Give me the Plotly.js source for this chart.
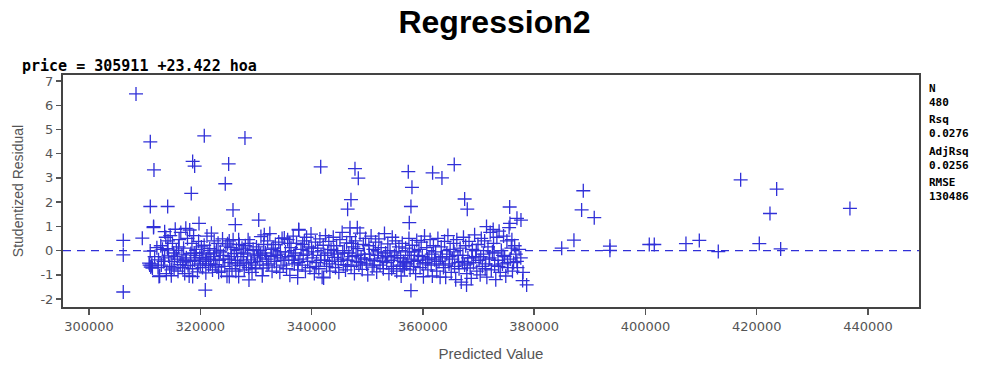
<!DOCTYPE html>
<html>
<head>
<meta charset="utf-8">
<script src="https://cdn.plot.ly/plotly-3.0.1.min.js"></script>
<style>html,body{margin:0;padding:0;background:#fff;}#chart{width:989px;height:366px;}</style>
</head>
<body>
<div id="chart"></div>
<script>
// Predicted value (x) and studentized residual (y)
const predValue = [
  // outliers / sparse points
  308450, 311020, 320720, 328030, 318630, 311680, 318990, 325100, 324490, 318380,
  311020, 314140, 325880, 326290, 330500, 341640, 306160, 306160, 306160, 309580,
  320900, 311610, 319770, 328750, 312580, 314790, 326900, 325210, 318630, 337500,
  331140, 342170, 337680, 347800, 348400, 347080, 346480, 346900, 348220, 357380,
  358040, 357860, 357560, 361750, 363430, 365640, 367510, 367980, 375600, 376910,
  377630, 375650, 357860, 378650, 377930, 367850, 371440, 372640, 384950, 387150,
  388830, 388530, 390800, 393620, 393620, 400690, 401590, 407280, 409680, 413090,
  417110, 420460, 422380, 423580, 424300, 436750,
  // dense cloud
  310800, 310900, 311100, 311300, 311400, 311200, 311600, 311000,
  312200, 312500, 312700, 312900, 313200, 313400, 313600, 313800, 313900, 314100,
  314300, 314500, 314600, 314800, 315000, 315200, 315300, 315500, 315700, 315900,
  316000, 316200, 316400, 316500, 316700, 316900, 317000, 317200, 317400, 317500,
  317700, 317800, 318000, 318100, 318300, 318500, 318600, 318800, 319000, 319200,
  319300, 319500, 319700, 319900, 320000, 320200, 320400, 320500, 320700, 320900,
  321000, 321200, 321400, 321500, 321700, 321900, 322000, 322200, 322400, 322500,
  322700, 322900, 323000, 323200, 323400, 323600, 323800, 324000, 324200, 324400,
  324600, 324800, 325000, 325200, 325300, 325500, 325700, 325900, 326100, 326300,
  326500, 326700, 326900, 327100, 327300, 327500, 327700, 327900, 328100, 328300,
  328500, 328700, 328900, 329100, 329300, 329500, 329700, 329900, 330100, 330300,
  330500, 330700, 330900, 331100, 331300, 331500, 331700, 331900, 332100, 332300,
  332500, 332700, 332900, 333100, 333300, 333500, 333700, 333900, 334100, 334300,
  334500, 334700, 334900, 335100, 335300, 335500, 335700, 335900, 336100, 336300,
  336500, 336700, 336900, 337100, 337300, 337500, 337700, 337900, 338100, 338300,
  338500, 338700, 338900, 339100, 339300, 339500, 339700, 339900, 340100, 340300,
  340500, 340700, 340900, 341100, 341300, 341500, 341700, 341900, 342100, 342300,
  342500, 342700, 342900, 343100, 343300, 343500, 343700, 343900, 344100, 344300,
  344500, 344700, 344900, 345100, 345300, 345500, 345700, 345900, 346100, 346300,
  346500, 346700, 346900, 347100, 347300, 347500, 347700, 347900, 348100, 348300,
  348500, 348700, 348900, 349100, 349300, 349500, 349700, 349900, 350100, 350300,
  350500, 350700, 350900, 351100, 351300, 351500, 351700, 351900, 352100, 352300,
  352500, 352700, 352900, 353100, 353300, 353500, 353700, 353900, 354100, 354300,
  354500, 354700, 354900, 355100, 355300, 355500, 355700, 355900, 356100, 356300,
  356500, 356700, 356900, 357100, 357300, 357500, 357700, 357900, 358100, 358300,
  358500, 358700, 358900, 359100, 359300, 359500, 359700, 359900, 360100, 360300,
  360500, 360700, 360900, 361100, 361300, 361500, 361700, 361900, 362100, 362300,
  362500, 362700, 362900, 363100, 363300, 363500, 363700, 363900, 364100, 364300,
  364500, 364700, 364900, 365100, 365300, 365500, 365700, 365900, 366100, 366300,
  366500, 366700, 366900, 367100, 367300, 367500, 367700, 367900, 368100, 368300,
  368500, 368700, 368900, 369100, 369300, 369500, 369700, 369900, 370100, 370300,
  370500, 370700, 370900, 371100, 371300, 371500, 371700, 371900, 372100, 372300,
  372500, 372700, 372900, 373100, 373300, 373500, 373700, 373900, 374100, 374300,
  374500, 374700, 374900, 375100, 375300, 375500, 375700, 375900, 376100, 376300,
  376500, 376700, 377000, 377300, 377600, 378000,
  311800, 312400, 313000, 313600, 314200, 314900, 315400, 316100, 316800, 317300,
  318200, 318900, 319600, 320300, 321100, 321800, 322600, 323300, 324100, 324900,
  325600, 326400, 327000, 327800, 328600, 329200, 330000, 330800, 331400, 332000,
  332800, 333600, 334400, 335200, 336000, 336800, 337600, 338400, 339200, 340000,
  340800, 341600, 342400, 343200, 344000, 344800, 345600, 346400, 347200, 348000,
  348800, 349600, 350400, 351200, 352000, 352800, 353600, 354400, 355200, 356000,
  356400, 356800, 357600, 358400, 359200, 360000, 360800, 361600, 362400, 363200,
  364000, 364800, 365600, 366400, 367200, 368000, 368800, 369600, 370400, 371200,
  372000, 372800, 373600, 374400, 375200, 376000, 376900
];
const studResidual = [
  6.47, 4.49, 4.74, 4.65, 3.68, 3.33, 3.49, 3.58, 2.76, 2.36,
  1.82, 1.82, 1.68, 1.07, 1.26, 3.46, 0.42, -0.18, -1.71, 0.51,
  -1.63, 0.99, 1.12, -1.21, -1.07, -1.04, -1.07, -1.07, -1.07, -1.12,
  -1.04, -1.13, 0.87, 3.38, 2.99, 2.10, 1.71, 0.94, 0.94, 3.26,
  2.61, 1.82, 1.15, 3.21, 3.00, 3.55, 2.13, 1.71, 1.80, 1.33,
  1.26, 1.12, -1.65, -1.42, -1.24, -1.42, 0.99, 0.87, 0.10, 0.43,
  2.47, 1.68, 1.36, 0.18, 0.01, 0.25, 0.25, 0.29, 0.42, -0.04,
  2.92, 0.29, 1.53, 2.54, 0.07, 1.74,
  -0.52, -0.60, -0.68, -0.55, -0.72, -0.63, 0.95, -0.02,
  0.12, -0.38, -1.05, 0.20, 0.05, -0.45, 0.78, 0.55, -0.95, 0.08,
  -0.22, -0.65, 0.62, -0.80, 0.30, -0.10, -0.72, 0.88, 0.02, -0.35,
  -0.85, 0.45, -0.58, 0.75, -0.18, -0.48, 0.10, -0.95, 0.92, -0.30,
  0.50, -0.62, -1.05, 0.85, -0.12, 0.30, -0.75, 0.62, -0.40, -0.20,
  0.05, -0.88, 0.38, -0.28, -0.55, 0.15, -0.70, -0.30, 0.22, -0.45,
  -0.92, 0.60, -0.15, -0.62, 0.08, -0.38, 0.72, -0.80, -0.25, 0.40,
  -0.58, 0.02, -0.68, 0.30, -0.40, -0.05, -0.85, 0.48, -0.20, -0.65,
  0.18, -1.06, -0.35, 0.40, -0.50, 0.12, -0.75, 0.45, -0.12, -0.55,
  0.05, -0.40, 0.45, -0.62, -0.25, 0.10, -0.48, -0.80, 0.20, -0.55,
  -0.15, -0.70, 0.30, -0.38, -0.90, 0.05, -0.22, -0.60, 0.15, -0.30,
  0.00, -0.45, 0.58, -0.20, -0.72, 0.65, -0.10, -0.35, 0.40, -0.55,
  0.70, -0.25, -0.85, 0.10, -0.45, 0.25, -0.68, -0.15, 0.35, -0.90,
  -0.30, 0.50, -0.60, 0.52, -0.05, -0.75, 0.45, -0.25, -1.02, 0.12,
  -0.40, 0.60, -0.55, -0.10, 0.30, -0.80, 0.85, -0.35, 0.05, -0.60,
  -0.20, 0.40, -0.85, 0.55, -0.45, 0.15, -0.70, 0.68, -0.30, -0.05,
  -0.95, 0.35, -0.50, 0.10, -0.75, 0.48, -0.20, -1.10, 0.22, -0.40,
  0.62, -0.65, -0.10, 0.38, -0.85, 0.05, -0.45, 0.55, -0.28, -0.70,
  0.20, -0.15, -0.90, 0.45, -0.35, 0.75, -0.58, 0.00, -0.80, 0.32,
  -0.40, -0.10, 0.58, -0.65, -0.25, 0.15, -0.95, 0.40, -0.45, 0.08,
  -0.60, 0.72, -0.30, -0.78, 0.25, -0.15, 0.50, -0.55, -1.00, 0.20,
  -0.35, 0.60, -0.68, 0.05, -0.42, 0.35, -0.88, -0.20, 0.48, -0.60,
  0.12, -0.30, -0.75, 0.70, -0.10, -0.50, 0.28, -0.95, 0.00, -0.40,
  0.55, -0.65, -0.20, 0.40, -0.85, -0.30, 0.15, -0.60, -1.05, 0.30,
  -0.45, -0.75, 0.10, -0.55, -0.20, 0.50, -0.80, -0.35, 0.22, -0.65,
  -0.05, -0.95, 0.42, -0.40, 0.05, -0.70, 0.35, -0.25, -1.08, 0.60,
  -0.50, 0.12, -0.80, -0.30, 0.45, -0.60, -1.05, 0.20, -0.38, -0.05,
  -0.85, 0.50, -0.45, -1.10, 0.15, -0.25, -0.70, 0.38, -1.10, -0.15,
  0.62, -0.55, 0.05, -0.90, -0.35, 0.30, -0.65, -1.20, 0.45, -0.20,
  -0.75, 0.10, -1.30, -0.45, 0.55, -0.60, 0.20, -0.95, -0.30, 0.38,
  -0.72, -1.15, 0.05, -0.50, 0.65, -0.25, -0.85, 0.25, -0.40, -1.00,
  0.50, -0.65, -0.15, 0.40, -0.55, -1.10, 0.15, -0.35, 0.75, -0.80,
  -0.05, 0.30, -0.60, -1.20, 0.55, -0.40, 0.80, -0.90, 0.00, -0.55,
  0.60, -0.25, -1.05, 0.40, -0.70, 0.95, -0.35, 0.10, -0.85, -0.50,
  0.20, -0.15, -0.70, 0.05, -0.30, -0.90,
  -0.25, -0.70, -0.60, -0.30, 0.40, -0.45, -0.25, 0.15, -0.70, -0.40,
  -0.45, -0.10, -0.60, -0.10, -0.35, -0.55, -0.10, -0.90, -0.35, 0.28,
  -0.25, -0.85, 0.25, -0.10, 0.45, -0.50, -0.75, -0.15, 0.25, -0.60,
  0.05, -0.20, -0.05, -0.40, 0.30, -0.20, -0.50, 0.25, -0.15, 0.10,
  -0.65, -0.40, -0.20, -0.55, 0.00, -0.45, -0.10, -0.60, 0.30, -0.20,
  -0.50, -0.35, -0.15, -0.60, -0.05, -0.45, -0.25, -0.75, -0.05, -0.30,
  -0.65, -0.50, -0.05, -0.45, -0.20, -0.55, -0.35, -0.15, -0.55, -0.30,
  -0.60, -0.25, -0.05, -0.50, -0.20, -0.55, -0.30, 0.00, -0.25, -0.75,
  -0.30, -0.10, -0.65, -0.20, -0.50, 0.45, -0.45
];
const xTickVals = [300000, 320000, 340000, 360000, 380000, 400000, 420000, 440000];
const yTickVals = [-2, -1, 0, 1, 2, 3, 4, 5, 6, 7];
const chartTitle = 'Regression2';
const equationText = 'price = 305911 +23.422 hoa';
const statNames = ['N', 'Rsq', 'AdjRsq', 'RMSE'];
const statValues = ['480', '0.0276', '0.0256', '130486'];

const blue = '#3030d8';
const grey = '#555555';

const trace = {
  type: 'scatter', mode: 'markers',
  x: predValue, y: studResidual,
  marker: { symbol: 'cross-thin-open', size: 10, color: blue, line: { color: blue, width: 1.3 } },
  hoverinfo: 'x+y', showlegend: false
};

const statCenters = [95.5, 126, 158, 189];
const annotations = [
  { text: '<b>' + equationText + '</b>', xref: 'paper', yref: 'paper', x: -0.05, y: 1 + (75 - 66) / 232,
    xanchor: 'left', yanchor: 'middle',
    showarrow: false, font: { family: 'DejaVu Sans Mono', size: 15, color: '#000' } }
].concat(statNames.map((s, i) => ({
  text: '<b>' + s + '<br>' + statValues[i] + '</b>', xref: 'paper', yref: 'paper',
  x: 1.0095, y: 1 - (statCenters[i] - 75) / 232, align: 'left',
  xanchor: 'left', yanchor: 'middle', showarrow: false,
  font: { family: 'DejaVu Sans Mono', size: 11, color: '#000' }
})));

const layout = {
  width: 989, height: 366,
  paper_bgcolor: '#fff', plot_bgcolor: '#fff',
  margin: { l: 63, r: 70, t: 75, b: 59 },
  title: { text: '<b>' + chartTitle + '</b>', x: 0.5, xref: 'container', xanchor: 'center',
           y: 1 - 22 / 366, yref: 'container', yanchor: 'middle',
           font: { family: 'Liberation Sans, Arial', size: 32, color: '#000' } },
  xaxis: {
    range: [295330, 449160], tickvals: xTickVals, ticktext: xTickVals.map(String),
    showgrid: false, zeroline: false, showline: true, mirror: true, linecolor: '#444', linewidth: 2,
    ticks: 'outside', ticklen: 6, tickwidth: 1.5, tickcolor: grey,
    tickfont: { family: 'DejaVu Sans', size: 13, color: grey },
    title: { text: 'Predicted Value', font: { family: 'Liberation Sans, Arial', size: 15, color: grey }, standoff: 16 }
  },
  yaxis: {
    range: [-2.33, 7.25], tickvals: yTickVals, ticktext: yTickVals.map(v => v < 0 ? '-' + Math.abs(v) : String(v)),
    showgrid: false, zeroline: false, showline: true, mirror: true, linecolor: '#444', linewidth: 2,
    ticks: 'outside', ticklen: 5, tickwidth: 1.5, tickcolor: grey,
    tickfont: { family: 'DejaVu Sans', size: 13, color: grey },
    title: { text: 'Studentized Residual', font: { family: 'Liberation Sans, Arial', size: 14, color: grey }, standoff: 14 }
  },
  shapes: [
    { type: 'line', xref: 'paper', yref: 'y', x0: 0, x1: 1, y0: 0, y1: 0,
      line: { color: blue, width: 1.3, dash: '8px,6px' }, layer: 'below' }
  ],
  annotations: annotations
};

Plotly.newPlot('chart', [trace], layout, { displayModeBar: false, staticPlot: true });
</script>
</body>
</html>
